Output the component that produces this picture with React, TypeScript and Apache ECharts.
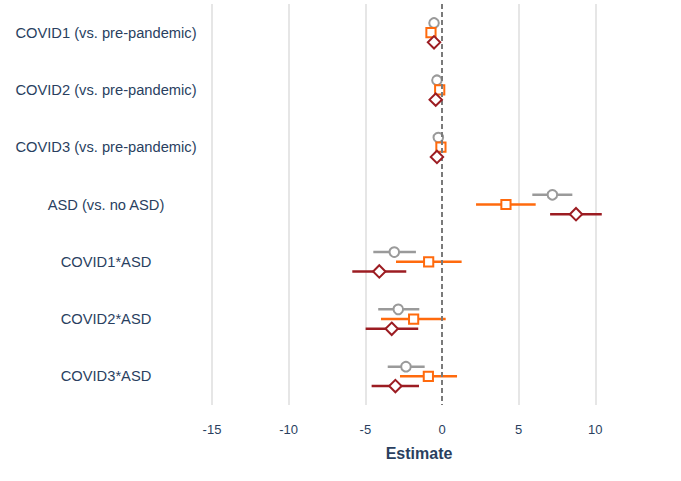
import React, { useEffect, useRef } from "react";
import * as echarts from "echarts";

const categories = [
  "COVID1 (vs. pre-pandemic)",
  "COVID2 (vs. pre-pandemic)",
  "COVID3 (vs. pre-pandemic)",
  "ASD (vs. no ASD)",
  "COVID1*ASD",
  "COVID2*ASD",
  "COVID3*ASD",
];

const greyEst = [-0.52, -0.33, -0.24, 7.2, -3.11, -2.85, -2.35];
const greyLow = [-0.6, -0.4, -0.3, 5.89, -4.48, -4.16, -3.54];
const greyHigh = [-0.44, -0.26, -0.18, 8.5, -1.7, -1.48, -1.13];

const orangeEst = [-0.72, -0.15, -0.07, 4.17, -0.87, -1.85, -0.89];
const orangeLow = [-0.85, -0.25, -0.17, 2.22, -3.0, -3.98, -2.74];
const orangeHigh = [-0.6, -0.05, 0.03, 6.11, 1.28, 0.24, 0.98];

const redEst = [-0.52, -0.41, -0.33, 8.74, -4.09, -3.28, -3.04];
const redLow = [-0.62, -0.5, -0.42, 7.05, -5.85, -4.98, -4.59];
const redHigh = [-0.42, -0.32, -0.24, 10.42, -2.33, -1.55, -1.5];

const xTicks = [-15, -10, -5, 0, 5, 10];

const FONT = "'Liberation Sans', Arial, Helvetica, sans-serif";
const TEXT = "#2a3f5f";

function build(est: number[], lo: number[], hi: number[]) {
  return est.map((v, i) => [i, v, lo[i], hi[i]]);
}

function makeRender(shape: string, color: string, offset: number) {
  return (params: any, api: any) => {
    const cat = api.value(0);
    const c = api.coord([api.value(1), cat]);
    const l = api.coord([api.value(2), cat]);
    const h = api.coord([api.value(3), cat]);
    const y = c[1] + offset;
    const x = c[0];
    let marker: any;
    const style = { fill: "#ffffff", stroke: color, lineWidth: 2 };
    if (shape === "circle") {
      marker = { type: "circle", shape: { cx: x, cy: y, r: 4.8 }, style };
    } else if (shape === "square") {
      marker = { type: "rect", shape: { x: x - 4.6, y: y - 4.6, width: 9.2, height: 9.2 }, style };
    } else {
      const d = 6.2;
      marker = {
        type: "polygon",
        shape: { points: [[x, y - d], [x + d, y], [x, y + d], [x - d, y]] },
        style,
      };
    }
    return {
      type: "group",
      children: [
        { type: "line", shape: { x1: l[0], y1: y, x2: h[0], y2: y }, style: { stroke: color, lineWidth: 2.5 } },
        marker,
      ],
    };
  };
}

export default function App() {
  const ref = useRef<HTMLDivElement>(null);
  useEffect(() => {
    if (!ref.current) return;
    const chart = echarts.init(ref.current, undefined, { renderer: "svg" });
    const grid = "#e6e6e6";
    chart.setOption({
      animation: false,
      backgroundColor: "#ffffff",
      grid: { left: 212, right: 55, top: 4, bottom: 76 },
      xAxis: {
        type: "value",
        min: xTicks[0],
        max: 12,
        interval: 5,
        name: "Estimate",
        nameLocation: "middle",
        nameGap: 40,
        nameTextStyle: { fontFamily: FONT, fontSize: 16, fontWeight: "bold", color: TEXT },
        axisLine: { show: false },
        axisTick: { show: false },
        axisLabel: {
          fontFamily: FONT,
          fontSize: 13,
          color: TEXT,
          margin: 18,
          showMaxLabel: false,
        },
        splitLine: {
          show: true,
          showMaxLine: false,
          lineStyle: { color: [grid, grid, grid, "rgba(0,0,0,0)", grid, grid, "rgba(0,0,0,0)"], width: 2 },
        },
      },
      yAxis: {
        type: "category",
        data: categories,
        inverse: true,
        axisLine: { show: false },
        axisTick: { show: false },
        splitLine: { show: false },
        axisLabel: {
          fontFamily: FONT,
          fontSize: 14.7,
          color: TEXT,
          align: "center",
          margin: 106,
        },
      },
      series: [
        {
          type: "scatter",
          data: [],
          z: 1,
          markLine: {
            silent: true,
            symbol: "none",
            label: { show: false },
            lineStyle: { color: "#7a7a7a", type: [5, 3], width: 2 },
            data: [{ xAxis: 0 }],
          },
        },
        {
          type: "custom",
          name: "grey",
          z: 3,
          renderItem: makeRender("circle", "#9a9a9a", -9.7),
          encode: { x: [1, 2, 3], y: 0 },
          data: build(greyEst, greyLow, greyHigh),
        },
        {
          type: "custom",
          name: "orange",
          z: 4,
          renderItem: makeRender("square", "#ff6a0d", 0),
          encode: { x: [1, 2, 3], y: 0 },
          data: build(orangeEst, orangeLow, orangeHigh),
        },
        {
          type: "custom",
          name: "red",
          z: 5,
          renderItem: makeRender("diamond", "#9c1c22", 9.7),
          encode: { x: [1, 2, 3], y: 0 },
          data: build(redEst, redLow, redHigh),
        },
      ],
    });
    return () => chart.dispose();
  }, []);
  return <div ref={ref} style={{ position: "fixed", left: 0, top: 0, width: 681, height: 481 }} />;
}
